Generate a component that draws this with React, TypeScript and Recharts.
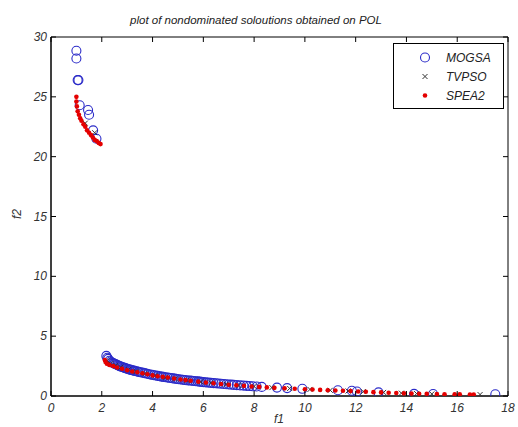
import React from "react";
import {
  ScatterChart,
  Scatter,
  XAxis,
  YAxis,
  ReferenceArea,
} from "recharts";

// [f1, f2] pairs
const mogsaPoints: number[][] = [
  [1.0, 28.85], [1.0, 28.2], [1.05, 26.4], [1.08, 26.4], [1.13, 24.3],
  [1.46, 23.9], [1.5, 23.5], [1.66, 22.2], [1.79, 21.5],
  [2.18, 3.35], [2.25, 3.1], [2.3, 2.95], [2.4, 2.8], [2.5, 2.7], [2.6, 2.6],
  [2.7, 2.5], [2.8, 2.42], [2.9, 2.35], [3.0, 2.28], [3.1, 2.2], [3.2, 2.15],
  [3.3, 2.1], [3.45, 2.02], [3.6, 1.95], [3.75, 1.88], [3.9, 1.8], [4.05, 1.74],
  [4.2, 1.68], [4.35, 1.62], [4.5, 1.57], [4.65, 1.52], [4.8, 1.47], [4.95, 1.42],
  [5.1, 1.38], [5.25, 1.34], [5.4, 1.3], [5.55, 1.27], [5.7, 1.23], [5.85, 1.2],
  [6.0, 1.16], [6.2, 1.12], [6.4, 1.08], [6.6, 1.04], [6.8, 1.0], [7.0, 0.96],
  [7.2, 0.93], [7.45, 0.89], [7.7, 0.85], [7.95, 0.81], [8.3, 0.76], [8.9, 0.7],
  [9.3, 0.66], [9.9, 0.6], [11.3, 0.48], [11.85, 0.44], [12.05, 0.38],
  [12.9, 0.3], [14.3, 0.18], [15.05, 0.17], [17.5, 0.14],
  [2.22, 3.2], [2.35, 2.88], [2.45, 2.75], [2.55, 2.65], [2.65, 2.55], [2.75, 2.46],
  [2.85, 2.38], [2.95, 2.31], [3.05, 2.24], [3.15, 2.18], [3.25, 2.12], [3.38, 2.06],
  [3.52, 1.98], [3.68, 1.91], [3.82, 1.84], [3.98, 1.77], [4.12, 1.71], [4.28, 1.65],
  [4.42, 1.6], [4.58, 1.55], [4.72, 1.5], [4.88, 1.45], [5.02, 1.4], [5.18, 1.36],
  [5.32, 1.32], [5.48, 1.29], [5.62, 1.25], [5.78, 1.22], [5.92, 1.18], [6.1, 1.14],
  [6.3, 1.1], [6.5, 1.06], [6.7, 1.02], [6.9, 0.98], [7.1, 0.95], [7.32, 0.91],
  [7.58, 0.87], [7.82, 0.83], [8.1, 0.79],
];

const tvpsoPoints: number[][] = [
  [1.35, 22.8], [1.72, 22.0],
  [2.2, 2.95], [2.35, 2.7], [2.55, 2.55], [2.75, 2.4], [3.05, 2.2], [3.35, 2.05],
  [3.7, 1.87], [4.1, 1.7], [4.5, 1.55], [4.9, 1.43], [5.35, 1.31], [5.9, 1.18],
  [6.3, 1.1], [6.9, 0.98], [7.4, 0.88], [8.0, 0.8], [8.7, 0.7], [9.4, 0.63],
  [10.2, 0.55], [11.0, 0.48], [11.7, 0.42], [12.3, 0.37], [13.1, 0.3],
  [13.8, 0.24], [14.4, 0.2], [15.0, 0.17], [16.9, 0.12],
];

const spea2Points: number[][] = [
  [1.0, 25.0], [1.0, 24.6], [1.02, 24.2], [1.05, 23.8], [1.1, 23.5], [1.15, 23.2],
  [1.2, 23.0], [1.28, 22.7], [1.35, 22.5], [1.42, 22.2], [1.5, 22.0], [1.58, 21.8],
  [1.65, 21.6], [1.72, 21.4], [1.8, 21.3], [1.88, 21.15], [1.95, 21.05],
  [2.12, 3.0], [2.15, 2.85], [2.2, 2.7], [2.3, 2.6], [2.45, 2.5], [2.6, 2.38],
  [2.8, 2.28], [3.0, 2.15], [3.2, 2.05], [3.4, 1.98], [3.6, 1.9], [3.8, 1.82],
  [4.0, 1.72], [4.2, 1.65], [4.4, 1.6], [4.6, 1.55], [4.85, 1.46], [5.1, 1.38],
  [5.3, 1.33], [5.5, 1.28], [5.8, 1.2], [6.1, 1.12], [6.4, 1.06], [6.7, 1.0],
  [7.0, 0.94], [7.3, 0.9], [7.6, 0.85], [7.9, 0.8], [8.2, 0.76], [8.5, 0.72],
  [8.8, 0.68], [9.2, 0.64], [9.6, 0.6], [10.0, 0.56], [10.3, 0.54], [10.6, 0.51],
  [10.9, 0.48], [11.2, 0.46], [11.5, 0.44], [11.8, 0.41], [12.1, 0.38],
  [12.4, 0.35], [12.7, 0.32], [13.0, 0.3], [13.3, 0.27], [13.6, 0.25],
  [13.9, 0.22], [14.2, 0.2], [14.5, 0.19], [14.8, 0.18], [15.2, 0.16],
  [15.5, 0.15], [15.9, 0.14], [16.1, 0.14], [16.5, 0.13], [16.65, 0.13],
];

const xTicks = [0, 2, 4, 6, 8, 10, 12, 14, 16, 18];
const yTicks = [0, 5, 10, 15, 20, 25, 30];
const seriesNames = ["MOGSA", "TVPSO", "SPEA2"];

const toRows = (pts: number[][]) => pts.map(([f1, f2]) => ({ f1, f2 }));

const BLUE = "#2b2bc8";
const GREY = "#333";
const RED = "#e40000";
const FONT = "'Liberation Sans', Arial, sans-serif";
const PLOT_W = 457;
const PLOT_H = 359;

const Circle = (p: any) => (
  <circle cx={p.cx} cy={p.cy} r={4.5} fill="none" stroke={BLUE} strokeWidth={1.1} />
);
const Cross = (p: any) => (
  <path
    d={`M${p.cx - 2.5},${p.cy - 2.5}L${p.cx + 2.5},${p.cy + 2.5}M${p.cx - 2.5},${p.cy + 2.5}L${p.cx + 2.5},${p.cy - 2.5}`}
    stroke={GREY}
    strokeWidth={1}
  />
);
const Dot = (p: any) => <circle cx={p.cx} cy={p.cy} r={2.3} fill={RED} />;

const XTick = (p: any) => (
  <g>
    <line x1={p.x} y1={p.y} x2={p.x} y2={p.y - 5} stroke="#000" />
    <line x1={p.x} y1={p.y - PLOT_H} x2={p.x} y2={p.y - PLOT_H + 5} stroke="#000" />
    <text x={p.x} y={p.y + 16} textAnchor="middle" fontSize={12} fontStyle="italic" fill={GREY} fontFamily={FONT}>
      {p.payload.value}
    </text>
  </g>
);

const YTick = (p: any) => (
  <g>
    <line x1={p.x} y1={p.y} x2={p.x + 5} y2={p.y} stroke="#000" />
    <line x1={p.x + PLOT_W} y1={p.y} x2={p.x + PLOT_W - 5} y2={p.y} stroke="#000" />
    <text x={p.x - 4} y={p.y + 4} textAnchor="end" fontSize={12} fontStyle="italic" fill={GREY} fontFamily={FONT}>
      {p.payload.value}
    </text>
  </g>
);

const LegendBox = () => (
  <div
    style={{
      position: "absolute",
      left: 393,
      top: 43,
      width: 111,
      height: 66,
      border: "1px solid #000",
      background: "#fff",
      fontFamily: FONT,
      fontStyle: "italic",
      fontSize: 12,
      color: "#222",
      boxSizing: "border-box",
    }}
  >
    {seriesNames.map((name, i) => (
      <div key={name} style={{ display: "flex", alignItems: "center", height: 19, marginTop: i === 0 ? 4 : 0 }}>
        <svg width={52} height={19}>
          {i === 0 && <Circle cx={31} cy={9.5} />}
          {i === 1 && <Cross cx={31} cy={9.5} />}
          {i === 2 && <Dot cx={31} cy={9.5} />}
        </svg>
        <span>{name}</span>
      </div>
    ))}
  </div>
);

export default function App() {
  return (
    <div style={{ position: "absolute", left: 0, top: 0, width: 518, height: 427, background: "#fff" }}>
      <div style={{ position: "absolute", left: 0, top: 14, width: 512, textAlign: "center", fontFamily: FONT, fontStyle: "italic", fontSize: 11.5, color: "#222" }}>
        plot of nondominated soloutions obtained on POL
      </div>
      <div style={{ position: "absolute", left: 274, top: 413, lineHeight: 1, fontFamily: FONT, fontStyle: "italic", fontSize: 12, color: GREY }}>
        f1
      </div>
      <div style={{ position: "absolute", left: 12, top: 208, lineHeight: 1, transform: "rotate(-90deg)", fontFamily: FONT, fontStyle: "italic", fontSize: 12, color: GREY }}>
        f2
      </div>
      <ScatterChart width={518} height={427} margin={{ top: 37, right: 10, bottom: 0, left: 0 }}>
        <XAxis
          type="number"
          dataKey="f1"
          domain={[0, 18]}
          ticks={xTicks}
          tickSize={0}
          tickMargin={0}
          height={31}
          stroke="#000"
          tick={XTick}
          interval={0}
          allowDataOverflow
        />
        <YAxis
          type="number"
          dataKey="f2"
          domain={[0, 30]}
          ticks={yTicks}
          tickSize={0}
          tickMargin={0}
          width={51}
          stroke="#000"
          tick={YTick}
          interval={0}
          allowDataOverflow
        />
        <ReferenceArea x1={0} x2={18} y1={0} y2={30} fill="none" stroke="#000" strokeWidth={1} />
        <Scatter name="MOGSA" data={toRows(mogsaPoints)} shape={Circle} isAnimationActive={false} />
        <Scatter name="TVPSO" data={toRows(tvpsoPoints)} shape={Cross} isAnimationActive={false} />
        <Scatter name="SPEA2" data={toRows(spea2Points)} shape={Dot} isAnimationActive={false} />
      </ScatterChart>
      <LegendBox />
    </div>
  );
}
